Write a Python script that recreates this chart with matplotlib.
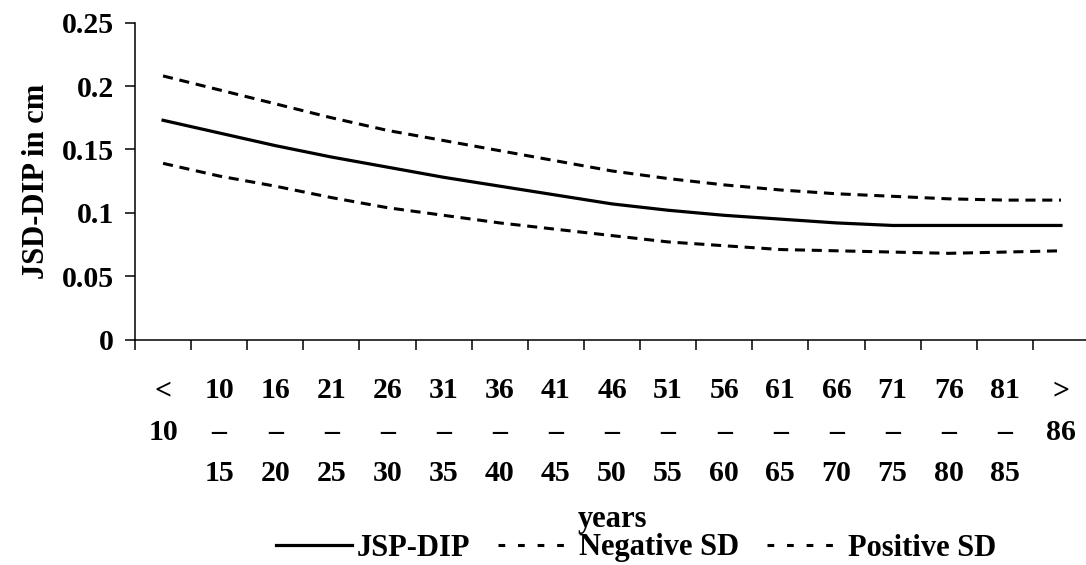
import matplotlib.pyplot as plt
import numpy as np

# age groups
groups = ["<\n10\n", "10\n–\n15", "16\n–\n20", "21\n–\n25", "26\n–\n30", "31\n–\n35",
          "36\n–\n40", "41\n–\n45", "46\n–\n50", "51\n–\n55", "56\n–\n60", "61\n–\n65",
          "66\n–\n70", "71\n–\n75", "76\n–\n80", "81\n–\n85", ">\n86\n"]

jsp_dip = [0.173, 0.163, 0.153, 0.144, 0.136, 0.128, 0.121, 0.114, 0.107,
           0.102, 0.098, 0.095, 0.092, 0.090, 0.090, 0.090, 0.090]
neg_sd = [0.139, 0.129, 0.121, 0.112, 0.104, 0.098, 0.092, 0.087, 0.082,
          0.077, 0.074, 0.071, 0.070, 0.069, 0.068, 0.069, 0.070]
pos_sd = [0.208, 0.197, 0.186, 0.175, 0.165, 0.157, 0.149, 0.141, 0.133,
          0.127, 0.122, 0.118, 0.115, 0.113, 0.111, 0.110, 0.110]

plt.rcParams['font.family'] = ['Liberation Serif', 'DejaVu Serif']
plt.rcParams['font.weight'] = 'bold'

fig = plt.figure(figsize=(10.86, 5.65), dpi=100)
ax = fig.add_axes([135 / 1086, 225.5 / 565, 954 / 1086, 0.5607])

x = np.arange(len(groups))
ax.plot(x, jsp_dip, color='black', lw=2.3, label='JSP-DIP')
ax.plot(x, neg_sd, color='black', lw=2.2, dashes=(3.3, 2.2), label='Negative SD')
ax.plot(x, pos_sd, color='black', lw=2.2, dashes=(3.3, 2.2), label='Positive SD')

ax.set_xlim(-0.5, len(groups) - 0.5)
ax.set_ylim(0, 0.25)
ax.set_yticks([0, 0.05, 0.1, 0.15, 0.2, 0.25])
ax.set_yticklabels(["0", "0.05", "0.1", "0.15", "0.2", "0.25"])
ax.set_xticks(x)
ax.set_xticklabels(groups, linespacing=1.7)
ax.set_xticks(np.arange(-0.5, len(groups) - 0.5), minor=True)

ax.tick_params(axis='x', which='major', length=0, pad=27, labelsize=21.5)
ax.tick_params(axis='x', which='minor', length=7, width=1.1, direction='out')
ax.tick_params(axis='y', length=7, width=1.1, pad=8, labelsize=21.5)

for s in ['top', 'right']:
    ax.spines[s].set_visible(False)
for s in ['left', 'bottom']:
    ax.spines[s].set_linewidth(1.1)

ax.set_ylabel("JSD-DIP in cm", fontsize=22, fontweight='bold', labelpad=8)

fig.text(612 / 1086, 1 - 519 / 565, "years", ha='center', va='center', fontsize=22)
leg = fig.legend(loc='center', bbox_to_anchor=(636 / 1086, 1 - 548 / 565), ncol=3,
                 frameon=False, fontsize=22, handlelength=2.5, handletextpad=0.15,
                 columnspacing=0.9, borderpad=0)
for h in leg.get_lines()[1:]:
    h.set_dashes((2.2, 4.2))

fig.savefig("out.png", dpi=100)
